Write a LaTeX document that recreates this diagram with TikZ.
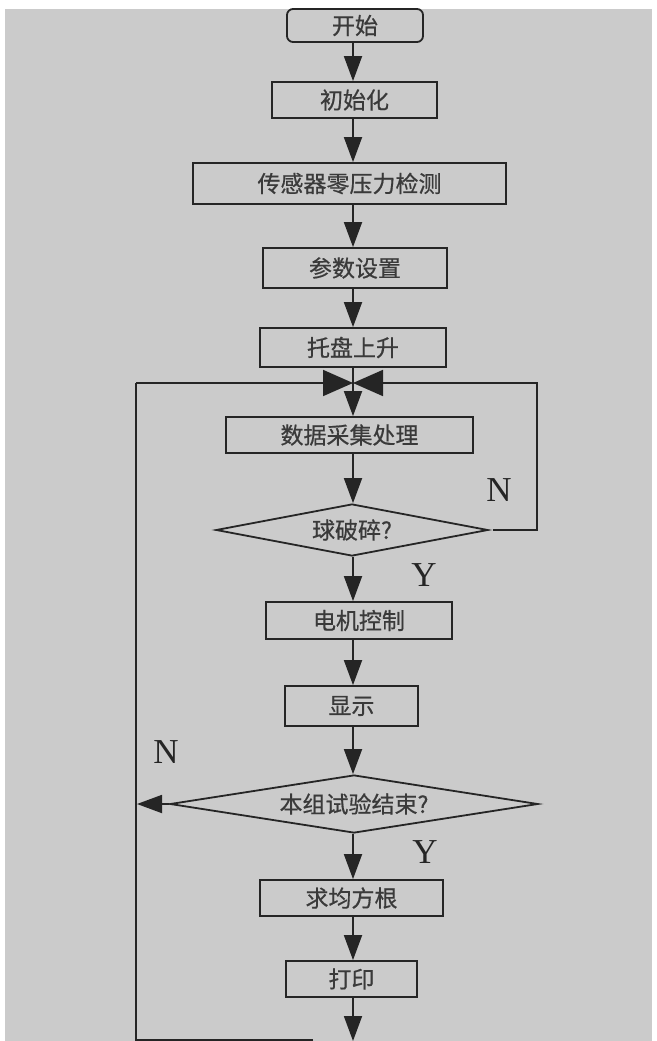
\documentclass[tikz,border=0pt]{standalone}
\usepackage{fontspec}
\newfontfamily\cjk[FakeBold=0.6]{Noto Sans CJK SC}
\newfontfamily\lat{Liberation Serif}
\usetikzlibrary{arrows.meta,shapes.geometric}
\definecolor{bg}{HTML}{CBCBCB}
\definecolor{ink}{HTML}{252525}
\definecolor{txt}{HTML}{3A3A3A}
\tikzset{
  box/.style={draw=ink,line width=1.8pt,rectangle,inner sep=0pt,font=\cjk\fontsize{23}{23}\selectfont,text=txt},
  dia/.style={draw=ink,line width=1.8pt,diamond,inner sep=0pt,font=\cjk\fontsize{23}{23}\selectfont,text=txt},
  conn/.style={draw=ink,line width=1.8pt},
  arr/.style={conn,-{Triangle[length=25pt,width=18pt]}},
  bigarr/.style={conn,-{Triangle[length=30pt,width=26pt]}},
  yn/.style={font=\lat\fontsize{35}{35}\selectfont,text=ink,inner sep=0pt},
}
\begin{document}
\begin{tikzpicture}[x=1pt,y=-1pt]
\useasboundingbox (0,0) rectangle (656,1041);
\fill[white] (0,0) rectangle (656,1041);
\fill[bg] (5,9) rectangle (652,1041);
\coordinate (col) at (353,0);
\node[box,rounded corners=6pt,minimum width=136pt,minimum height=33pt] (start) at (355,25.5) {开始};
\node[box,minimum width=165pt,minimum height=36pt] (init) at (354.5,100) {初始化};
\node[box,minimum width=313pt,minimum height=41pt] (sens) at (349.5,183.5) {传感器零压力检测};
\node[box,minimum width=184pt,minimum height=40pt] (param) at (355,268) {参数设置};
\node[box,minimum width=186pt,minimum height=39pt] (tray) at (353,347.5) {托盘上升};
\coordinate (m) at (353,383);
\node[box,minimum width=247pt,minimum height=36pt] (acq) at (349.5,435) {数据采集处理};
\node[dia,aspect=5,minimum width=272pt,minimum height=52pt] (d1) at (352,530) {球破碎?};
\node[box,minimum width=186pt,minimum height=37pt] (motor) at (359,620.5) {电机控制};
\node[box,minimum width=133pt,minimum height=40pt] (disp) at (351.5,706) {显示};
\node[dia,aspect=6.3,minimum width=368pt,minimum height=58pt] (d2) at (354,804) {本组试验结束?};
\node[box,minimum width=183pt,minimum height=36pt] (rms) at (351.5,898) {求均方根};
\node[box,minimum width=131pt,minimum height=36pt] (prn) at (351.5,979) {打印};
\coordinate (rr) at (537,383);
\coordinate (ll) at (136,383);
\coordinate (bend) at (313,1040);
\coordinate (l2) at (137,804);
\coordinate (bot) at (353,1041);
% connectors
\draw[arr] (start.south -| col) -- (init.north -| col);
\draw[arr] (init.south -| col) -- (sens.north -| col);
\draw[arr] (sens.south -| col) -- (param.north -| col);
\draw[arr] (param.south -| col) -- (tray.north -| col);
\draw[arr] (tray.south -| col) -- (acq.north -| col);
\draw[arr] (acq.south -| col) -- (d1.north -| col);
\draw[arr] (d1.south -| col) -- (motor.north -| col);
\draw[arr] (motor.south -| col) -- (disp.north -| col);
\draw[arr] (disp.south -| col) -- (d2.north -| col);
\draw[arr] (d2.south -| col) -- (rms.north -| col);
\draw[arr] (rms.south -| col) -- (prn.north -| col);
\draw[arr] (prn.south -| col) -- (bot);
\draw[arr] (d2.west) -- (l2);
\draw[bigarr] ([xshift=4pt]d1.east) -| (rr) -- (m);
\draw[conn] (bend) -| (ll);
\draw[bigarr] (ll) -- (m);
% labels
\node[yn] at (499,490) {N};
\node[yn] at (424,575) {Y};
\node[yn] at (166,752) {N};
\node[yn] at (425,852) {Y};
\end{tikzpicture}
\end{document}
